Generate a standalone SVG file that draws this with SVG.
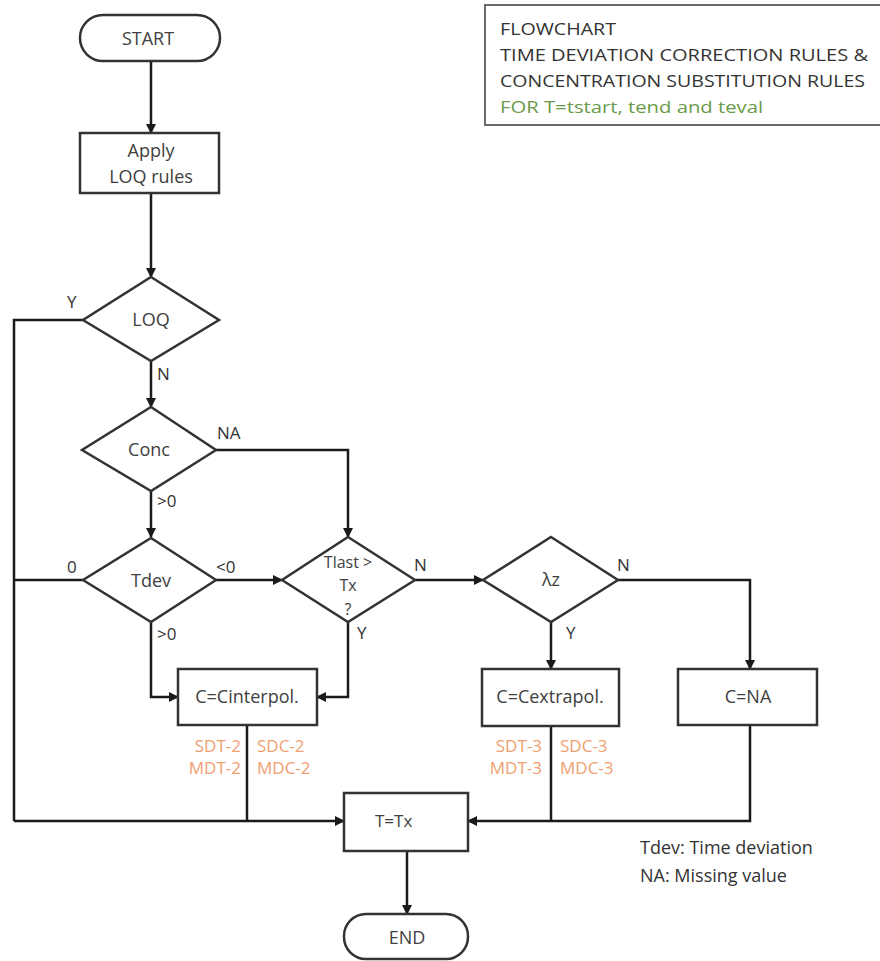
<svg xmlns="http://www.w3.org/2000/svg" width="880" height="961" viewBox="0 0 880 961">
<defs>
<marker id="ah" viewBox="0 0 10 10" refX="9" refY="5" markerWidth="4" markerHeight="4" orient="auto" markerUnits="strokeWidth">
<path d="M0,0 L10,5 L0,10 z" fill="#1a1a1a"/>
</marker>
</defs>
<style>
.shape{fill:#fff;stroke:#333;stroke-width:2.5}
.ln{fill:none;stroke:#1a1a1a;stroke-width:2.5}
.arr{fill:none;stroke:#1a1a1a;stroke-width:2.5;marker-end:url(#ah)}
text{font-family:"Open Sans","Liberation Sans",sans-serif;fill:#404040}
.t{font-size:18px;text-anchor:middle}
.ts{font-size:16px;text-anchor:middle}
.lbl{font-size:17px;fill:#333}
.or{font-size:17px;fill:#f0a070}
.hd{font-size:16px;fill:#333}
.lg{font-size:18px;fill:#333}
</style>
<rect width="880" height="961" fill="#fff"/>
<g id="connectors">
<path class="arr" d="M151,61 V133"/>
<path class="arr" d="M151,193 V277"/>
<path class="arr" d="M151,361 V407"/>
<path class="arr" d="M151,491 V537"/>
<path class="ln" d="M83,320 H14 V821"/>
<path class="arr" d="M216,450 H348 V537"/>
<path class="ln" d="M83,580 H14"/>
<path class="arr" d="M216,580 H282"/>
<path class="arr" d="M415,580 H483"/>
<path class="arr" d="M618,580 H750 V669"/>
<path class="arr" d="M551,622 V669"/>
<path class="arr" d="M151,622 V697 H178"/>
<path class="arr" d="M348,622 V697 H317"/>
<path class="ln" d="M247,725 V821"/>
<path class="arr" d="M14,821 H344"/>
<path class="ln" d="M551,726 V821"/>
<path class="arr" d="M750,725 V821 H468"/>
<path class="arr" d="M407,851 V914"/>
</g>
<g id="title">
<rect x="485" y="5" width="400" height="120" fill="#fff" stroke="#6a6a6a" stroke-width="2"/>
<text class="hd" x="500" y="35" textLength="116" lengthAdjust="spacingAndGlyphs">FLOWCHART</text>
<text class="hd" x="500" y="61" textLength="368" lengthAdjust="spacingAndGlyphs">TIME DEVIATION CORRECTION RULES &amp;</text>
<text class="hd" x="500" y="87" textLength="365" lengthAdjust="spacingAndGlyphs">CONCENTRATION SUBSTITUTION RULES</text>
<text class="hd" x="500" y="113" style="fill:#6a9a4a" textLength="263" lengthAdjust="spacingAndGlyphs">FOR T=tstart, tend and teval</text>
</g>
<g id="start">
<rect class="shape" x="80" y="15" width="140" height="46" rx="23"/>
<text class="t" x="148" y="45">START</text>
</g>
<g id="apply">
<rect class="shape" x="80" y="133" width="139" height="60"/>
<text class="t" x="151" y="157">Apply</text>
<text class="t" x="151" y="183">LOQ rules</text>
</g>
<g id="loq">
<polygon class="shape" points="151,277 219,320 151,361 83,320"/>
<text class="t" x="151" y="326">LOQ</text>
<text class="lbl" x="67" y="308">Y</text>
<text class="lbl" x="157" y="380">N</text>
</g>
<g id="conc">
<polygon class="shape" points="151,407 216,450 151,491 82,450"/>
<text class="t" x="149" y="456">Conc</text>
<text class="lbl" x="217" y="439">NA</text>
<text class="lbl" x="157" y="507">&gt;0</text>
</g>
<g id="tdev">
<polygon class="shape" points="151,538 216,580 151,622 83,580"/>
<text class="t" x="151" y="587">Tdev</text>
<text class="lbl" x="67" y="573">0</text>
<text class="lbl" x="216" y="573">&lt;0</text>
<text class="lbl" x="157" y="640">&gt;0</text>
</g>
<g id="tlast">
<polygon class="shape" points="348,537 415,580 348,622 282,580"/>
<text class="ts" x="348" y="568">Tlast &gt;</text>
<text class="ts" x="348" y="591">Tx</text>
<text class="ts" x="348" y="615">?</text>
<text class="lbl" x="414" y="571">N</text>
<text class="lbl" x="357" y="639">Y</text>
</g>
<g id="lambda">
<polygon class="shape" points="551,537 618,580 551,622 483,580"/>
<text class="t" x="551" y="586">λz</text>
<text class="lbl" x="617" y="571">N</text>
<text class="lbl" x="566" y="639">Y</text>
</g>
<g id="cinterpol">
<rect class="shape" x="178" y="669" width="139" height="56"/>
<text class="t" x="247" y="703">C=Cinterpol.</text>
<text class="or" x="241" y="752" text-anchor="end">SDT-2</text>
<text class="or" x="257" y="752">SDC-2</text>
<text class="or" x="241" y="774" text-anchor="end">MDT-2</text>
<text class="or" x="257" y="774">MDC-2</text>
</g>
<g id="cextrapol">
<rect class="shape" x="482" y="669" width="137" height="57"/>
<text class="t" x="550" y="703">C=Cextrapol.</text>
<text class="or" x="542" y="752" text-anchor="end">SDT-3</text>
<text class="or" x="560" y="752">SDC-3</text>
<text class="or" x="542" y="774" text-anchor="end">MDT-3</text>
<text class="or" x="560" y="774">MDC-3</text>
</g>
<g id="cna">
<rect class="shape" x="678" y="669" width="139" height="56"/>
<text class="t" x="748" y="703">C=NA</text>
</g>
<g id="ttx">
<rect class="shape" x="344" y="793" width="124" height="58"/>
<text class="lbl" x="375" y="827" style="fill:#404040">T=Tx</text>
</g>
<g id="end">
<rect class="shape" x="344" y="914" width="124" height="45" rx="22"/>
<text class="t" x="407" y="944">END</text>
</g>
<g id="legend">
<text class="lg" x="640" y="854">Tdev: Time deviation</text>
<text class="lg" x="640" y="882">NA: Missing value</text>
</g>
</svg>
